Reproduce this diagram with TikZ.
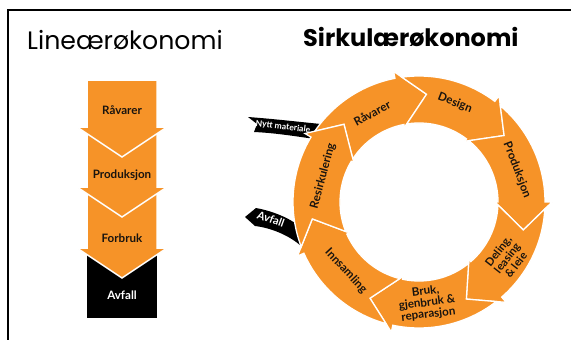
\documentclass[tikz,border=0pt]{standalone}
\usepackage{fontspec}
\setmainfont{Poppins}
\newfontfamily\labfont{Lato}
\definecolor{org}{RGB}{246,147,40}
\definecolor{ink}{RGB}{25,20,15}
\begin{document}
\begin{tikzpicture}[x=1pt,y=1pt,
  orgblock/.style={fill=org, draw=white, line width=1.5pt, line join=miter},
  ringseg/.style={fill=org, draw=white, line width=1.3pt, line join=miter},
  band/.style={fill=black},
  lab/.style={font=\labfont\bfseries\fontsize{11.6}{11.6}\selectfont, text=ink, align=center, inner sep=0pt},
  blab/.style={font=\labfont\bfseries\fontsize{8.6}{10}\selectfont, text=white, inner sep=0pt},
  title/.style={anchor=base west, inner sep=0pt}]
\useasboundingbox (0,0) rectangle (571,-340);
\fill[white] (0,0) rectangle (571,-340);
\draw[line width=2pt] (8,-340) -- (8,-10) -- (571,-10);
% titles
\node[title, font=\fontsize{25.2}{28}\selectfont] (tl) at (27,-49) {Lineærøkonomi};
\node[title, font=\bfseries\fontsize{24}{28}\selectfont] (tc) at (303,-46) {Sirkulærøkonomi};
% linear column
\fill[black] (87,-248) rectangle (157,-318);
\path[orgblock] (87,-187) -- (157,-187) -- (157,-248) -- (167,-248) -- (122,-278) -- (77,-248) -- (87,-248) -- cycle;
\path[orgblock] (87,-127) -- (157,-127) -- (157,-187) -- (167,-187) -- (122,-217) -- (77,-187) -- (87,-187) -- cycle;
\path[orgblock] (87,-80) -- (157,-80) -- (157,-127) -- (167,-127) -- (122,-157) -- (77,-127) -- (87,-127) -- cycle;
\node[lab] (l1) at (122,-110) {Råvarer};
\node[lab] (l2) at (122,-175) {Produksjon};
\node[lab] (l3) at (122,-238) {Forbruk};
\node[lab, text=white] (l4) at (122,-295) {Avfall};
% black side arrows
\path[band] (248,-117) .. controls (275,-119) and (300,-122) .. (321,-124) -- (322,-140)
  .. controls (300,-137) and (277,-133) .. (254,-132) -- (257,-124) -- cycle;
\path[band] (245,-217) -- (256,-208) .. controls (272,-211) and (287,-217) .. (298,-225) -- (301,-246)
  .. controls (290,-236) and (272,-228) .. (255,-226) -- cycle;
\node[blab, rotate=-7] (nm) at (283,-127) {Nytt materiale};
\node[blab, font=\labfont\bfseries\fontsize{11}{11}\selectfont, rotate=-20] (av) at (271,-219) {Avfall};
% ring
\begin{scope}[shift={(419,-202)}]
\foreach \s/\e in {134/86, 86/38, 38/-15, -15/-64, -64/-117, -117/-171, -171/-226} {
  \path[ringseg] ({\s+11.8}:126) -- (\s:108) -- ({\s+12.9}:79)
    arc[start angle=\s+12.9, end angle=\e+15, radius=79pt] -- ({\e+15}:76) -- (\e:108)
    -- ({\e+15}:133) -- ({\e+15}:126) arc[start angle=\e+15, end angle=\s+11.8, radius=126pt] -- cycle;
}
\end{scope}
\node[lab, rotate=28] (c1) at (372,-113) {Råvarer};
\node[lab, rotate=-21] (c2) at (455,-103) {Design};
\node[lab, rotate=-69] (c3) at (517,-170) {Produksjon};
\node[lab, rotate=52, font=\labfont\bfseries\fontsize{11.2}{11.2}\selectfont] (c4) at (507,-258) {Deling,\\leasing\\\& leie};
\node[lab, rotate=7] (c5) at (427,-303) {Bruk,\\gjenbruk \&\\reparasjon};
\node[lab, rotate=-47] (c6) at (346,-271) {Innsamling};
\node[lab, rotate=75] (c7) at (323,-176) {Resirkulering};
\end{tikzpicture}
\end{document}
